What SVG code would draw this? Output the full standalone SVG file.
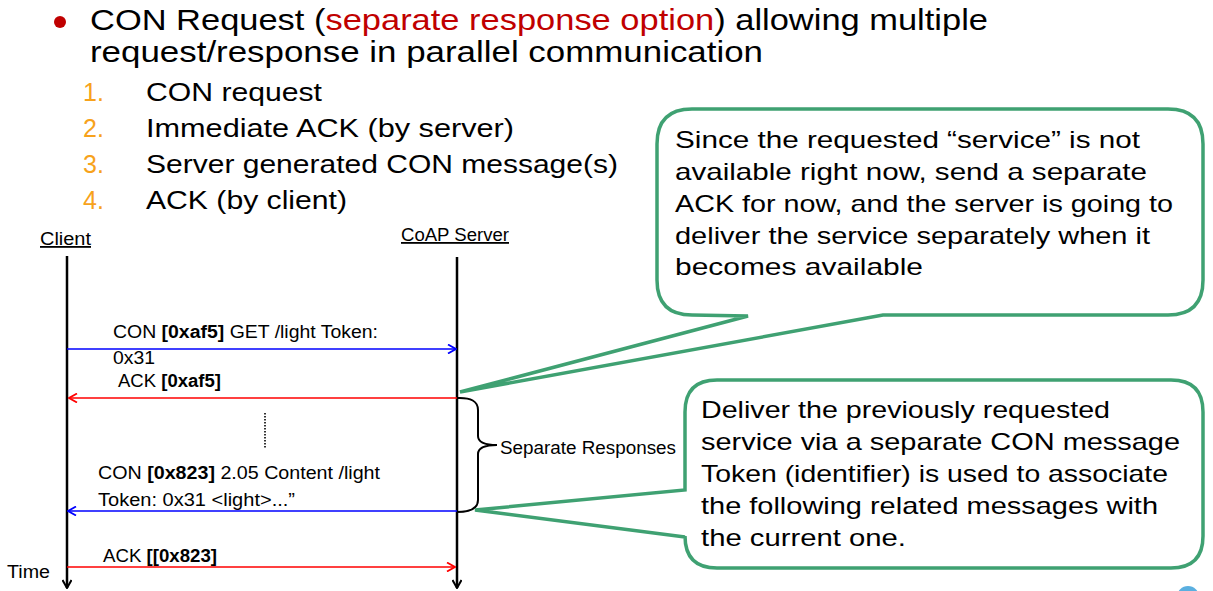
<svg xmlns="http://www.w3.org/2000/svg" width="1213" height="591" viewBox="0 0 1213 591">
  <style>
    .big { font-family: "Liberation Sans", Arial, sans-serif; font-size: 29px; fill: #000; }
    .item { font-family: "Liberation Sans", Arial, sans-serif; font-size: 25px; fill: #000; }
    .num { font-family: "Liberation Sans", Arial, sans-serif; font-size: 25px; fill: #f7a21b; }
    .note { font-family: "Liberation Sans", Arial, sans-serif; font-size: 24px; fill: #000; }
    .lbl { font-family: "Liberation Sans", Arial, sans-serif; font-size: 17.5px; fill: #000; }
    .hd { font-family: "Liberation Sans", Arial, sans-serif; font-size: 18px; fill: #000; text-decoration: underline; }
    .life { stroke: #000; stroke-width: 2.5; fill: none; }
    .msg-blue { stroke: #0000ff; stroke-width: 1.5; fill: none; }
    .msg-red { stroke: #ff0000; stroke-width: 1.5; fill: none; }
    .callout { fill: #fff; stroke: #3fa172; stroke-width: 3.5; stroke-linejoin: miter; }
  </style>
  <defs>
    <marker id="ah-blue" viewBox="0 0 10 10" refX="9" refY="5" markerWidth="10" markerHeight="10" markerUnits="userSpaceOnUse" orient="auto">
      <path d="M1,0.5 L9,5 L1,9.5" fill="none" stroke="#0000ff" stroke-width="1.8"/>
    </marker>
    <marker id="ah-red" viewBox="0 0 10 10" refX="9" refY="5" markerWidth="10" markerHeight="10" markerUnits="userSpaceOnUse" orient="auto">
      <path d="M1,0.5 L9,5 L1,9.5" fill="none" stroke="#ff0000" stroke-width="1.8"/>
    </marker>
    <marker id="ah-black" viewBox="0 0 10 10" refX="9" refY="5" markerWidth="10" markerHeight="10" markerUnits="userSpaceOnUse" orient="auto">
      <path d="M1,0.5 L9,5 L1,9.5" fill="none" stroke="#000" stroke-width="2"/>
    </marker>
  </defs>

  <rect width="1213" height="591" fill="#fff"/>

  <!-- heading bullet and text -->
  <g id="heading">
    <circle cx="60" cy="22" r="6" fill="#c00000"/>
    <text class="big" x="90" y="30" textLength="898" lengthAdjust="spacingAndGlyphs">CON Request (<tspan fill="#c00000">separate response option</tspan>) allowing multiple</text>
    <text class="big" x="90" y="62" textLength="673" lengthAdjust="spacingAndGlyphs">request/response in parallel communication</text>
  </g>

  <!-- numbered steps -->
  <g id="steps">
    <text class="num" x="83" y="101">1.</text>
    <text class="item" x="146" y="101" textLength="176" lengthAdjust="spacingAndGlyphs">CON request</text>
    <text class="num" x="83" y="137">2.</text>
    <text class="item" x="146" y="137" textLength="368" lengthAdjust="spacingAndGlyphs">Immediate ACK (by server)</text>
    <text class="num" x="83" y="173">3.</text>
    <text class="item" x="146" y="173" textLength="472" lengthAdjust="spacingAndGlyphs">Server generated CON message(s)</text>
    <text class="num" x="83" y="209">4.</text>
    <text class="item" x="146" y="209" textLength="201" lengthAdjust="spacingAndGlyphs">ACK (by client)</text>
  </g>

  <!-- participants -->
  <g id="client">
    <text class="hd" x="40" y="245" textLength="51" lengthAdjust="spacingAndGlyphs">Client</text>
    <line class="life" x1="67" y1="256" x2="67" y2="588" marker-end="url(#ah-black)"/>
  </g>
  <g id="server">
    <text class="hd" x="401" y="241" textLength="108" lengthAdjust="spacingAndGlyphs">CoAP Server</text>
    <line class="life" x1="457" y1="257" x2="457" y2="588" marker-end="url(#ah-black)"/>
  </g>
  <g id="time-label">
    <text class="lbl" x="7" y="578" font-size="18" textLength="43" lengthAdjust="spacingAndGlyphs">Time</text>
  </g>

  <!-- messages -->
  <g id="connectors">
    <line class="msg-blue" x1="67" y1="349" x2="456" y2="349" marker-end="url(#ah-blue)"/>
    <line class="msg-red" x1="457" y1="398" x2="69" y2="398" marker-end="url(#ah-red)"/>
    <line x1="265" y1="413" x2="265" y2="449" stroke="#000" stroke-width="1.6" stroke-dasharray="1.5 1.5"/>
    <line class="msg-blue" x1="457" y1="511" x2="68" y2="511" marker-end="url(#ah-blue)"/>
    <line class="msg-red" x1="67" y1="567" x2="455" y2="567" marker-end="url(#ah-red)"/>
    <!-- brace grouping the separate responses -->
    <path d="M457,398 Q478,397 478,410 L478,436 Q478,445 497,445 Q478,445 478,454 L478,500 Q478,512 457,512" fill="none" stroke="#000" stroke-width="2"/>
  </g>

  <g id="msg-labels">
    <text class="lbl" x="113" y="338" textLength="265" lengthAdjust="spacingAndGlyphs">CON <tspan font-weight="bold">[0xaf5]</tspan> GET /light Token:</text>
    <text class="lbl" x="113" y="364" textLength="42" lengthAdjust="spacingAndGlyphs">0x31</text>
    <text class="lbl" x="118" y="387" textLength="103" lengthAdjust="spacingAndGlyphs">ACK <tspan font-weight="bold">[0xaf5]</tspan></text>
    <text class="lbl" x="98" y="479" textLength="282" lengthAdjust="spacingAndGlyphs">CON <tspan font-weight="bold">[0x823]</tspan> 2.05 Content /light</text>
    <text class="lbl" x="98" y="506" textLength="197" lengthAdjust="spacingAndGlyphs">Token: 0x31 &lt;light&gt;...”</text>
    <text class="lbl" x="103" y="562" textLength="114" lengthAdjust="spacingAndGlyphs">ACK <tspan font-weight="bold">[[0x823]</tspan></text>
    <text class="lbl" x="500" y="454" font-size="18" textLength="176" lengthAdjust="spacingAndGlyphs">Separate Responses</text>
  </g>

  <!-- callout about the deferred service -->
  <g id="note-ack">
    <path class="callout" d="M692,109 L1168,109 Q1203,109 1203,144 L1203,280 Q1203,315 1168,315 L883,315 L460,392 L748,316 L692,315 Q657,315 657,280 L657,144 Q657,109 692,109 Z"/>
    <text class="note" x="675" y="148" textLength="465" lengthAdjust="spacingAndGlyphs">Since the requested “service” is not</text>
    <text class="note" x="675" y="180" textLength="472" lengthAdjust="spacingAndGlyphs">available right now, send a separate</text>
    <text class="note" x="675" y="212" textLength="498" lengthAdjust="spacingAndGlyphs">ACK for now, and the server is going to</text>
    <text class="note" x="675" y="244" textLength="475" lengthAdjust="spacingAndGlyphs">deliver the service separately when it</text>
    <text class="note" x="675" y="275" textLength="248" lengthAdjust="spacingAndGlyphs">becomes available</text>
  </g>

  <!-- callout about the separate CON message -->
  <g id="note-con">
    <path class="callout" d="M717,380 L1171,380 Q1203,380 1203,412 L1203,536 Q1203,568 1171,568 L717,568 Q685,568 685,536 L685,537 L475,510 L685,490 L685,412 Q685,380 717,380 Z"/>
    <text class="note" x="701" y="418" textLength="409" lengthAdjust="spacingAndGlyphs">Deliver the previously requested</text>
    <text class="note" x="701" y="450" textLength="479" lengthAdjust="spacingAndGlyphs">service via a separate CON message</text>
    <text class="note" x="701" y="482" textLength="467" lengthAdjust="spacingAndGlyphs">Token (identifier) is used to associate</text>
    <text class="note" x="701" y="514" textLength="457" lengthAdjust="spacingAndGlyphs">the following related messages with</text>
    <text class="note" x="701" y="546" textLength="205" lengthAdjust="spacingAndGlyphs">the current one.</text>
  </g>

  <!-- corner badges -->
  <circle cx="1188" cy="597" r="11" fill="#5aafe0"/>
  <circle cx="-6" cy="596" r="8" fill="#5aafe0"/>
</svg>
